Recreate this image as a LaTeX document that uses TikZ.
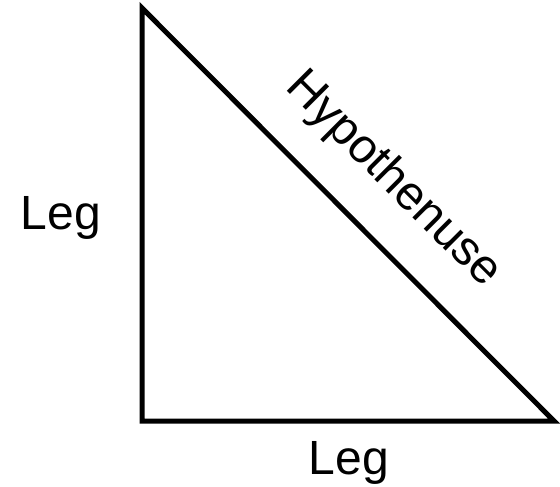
\documentclass[tikz,border=0pt]{standalone}
\usepackage{fontspec}
\setmainfont{Liberation Sans}
\begin{document}
\begin{tikzpicture}[x=1pt,y=-1pt,
  edge/.style={line width=5pt,line join=miter},
  lbl/.style={inner sep=0pt,font=\fontsize{48}{52}\selectfont}]
\useasboundingbox (0,0) rectangle (560,487);
\coordinate (A) at (142,8);
\coordinate (B) at (142,421);
\coordinate (C) at (554,421);
\draw[edge] (A) -- (B) -- (C) -- cycle;
\node[lbl] (leg1) at (61,218) {Leg};
\node[lbl] (leg2) at (349,463) {Leg};
\node[lbl,rotate=-45] (hyp) at (393,180) {Hypothenuse};
\end{tikzpicture}
\end{document}
